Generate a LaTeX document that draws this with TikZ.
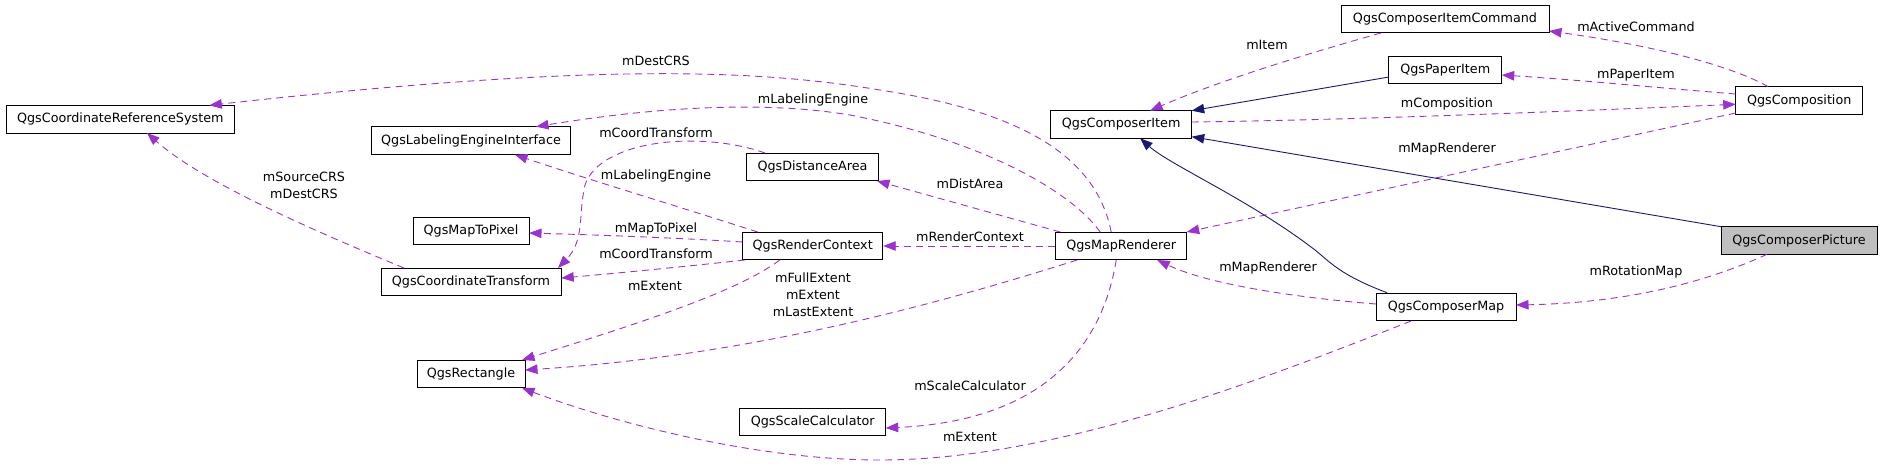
\documentclass[tikz,border=0pt]{standalone}
\usepackage{fontspec}
\setmainfont{DejaVu Sans}
\usetikzlibrary{arrows.meta}
\definecolor{edgepurple}{HTML}{9A32CD}
\definecolor{edgenavy}{HTML}{191970}
\definecolor{boxgray}{HTML}{BFBFBF}
\tikzset{
  cls/.style={draw=black, line width=1pt, fill=white, minimum height=27.6pt, inner sep=0pt, anchor=center},
  member/.style={draw=edgepurple, line width=0.9pt, dash pattern=on 7pt off 5pt, -{Triangle[length=12.5pt,width=9.5pt]}},
  inherit/.style={draw=edgenavy, line width=0.9pt, -{Triangle[length=12.5pt,width=9.5pt]}},
  lbl/.style={inner sep=0pt, text height=9.3pt, text depth=0pt, anchor=center},
  lbltwo/.style={inner sep=0pt, align=center, anchor=center}
}
\begin{document}
\begin{tikzpicture}[x=1pt, y=-1pt, font=\fontsize{12.75}{17}\selectfont]
\useasboundingbox (0,0) rectangle (1883,471);
% classes
\node[cls, minimum width=228pt] (crs) at (120.3,119.2) {QgsCoordinateReferenceSystem};
\node[cls, minimum width=199pt] (lei) at (471,140.7) {QgsLabelingEngineInterface};
\node[cls, minimum width=116pt] (m2p) at (471,231) {QgsMapToPixel};
\node[cls, minimum width=180pt] (ct) at (471,282) {QgsCoordinateTransform};
\node[cls, minimum width=108pt] (rect) at (471,374) {QgsRectangle};
\node[cls, minimum width=141pt] (ci) at (1121.2,124.5) {QgsComposerItem};
\node[cls, minimum width=132pt] (da) at (812.5,167) {QgsDistanceArea};
\node[cls, minimum width=131pt] (mr) at (1121.2,246) {QgsMapRenderer};
\node[cls, minimum width=140pt] (rc) at (812.7,246) {QgsRenderContext};
\node[cls, minimum width=146pt] (sc) at (812.7,422) {QgsScaleCalculator};
\node[cls, minimum width=208pt] (cic) at (1445,19) {QgsComposerItemCommand};
\node[cls, minimum width=113pt] (pi) at (1445.2,70) {QgsPaperItem};
\node[cls, minimum width=127pt] (comp) at (1799.2,100.5) {QgsComposition};
\node[cls, minimum width=156pt, fill=boxgray] (cp) at (1799,240.5) {QgsComposerPicture};
\node[cls, minimum width=140pt] (cm) at (1446,307) {QgsComposerMap};
% member edges
\draw[member] ([shift={(-64,14)}]cic.center) .. controls (1320,50) and (1220,80) .. ([shift={(29,-13.8)}]ci.center);
\draw[member] ([shift={(-10,-14)}]mr.center) .. controls (1095,150) and (1010,110) .. (880,90) .. controls (760,70) and (600,62) .. ([shift={(89,-13.9)}]crs.center);
\draw[member] ([shift={(-21,-14)}]mr.center) .. controls (1070,190) and (980,140) .. (850,115) .. controls (760,100) and (650,108) .. ([shift={(65,-14)}]lei.center);
\draw[member] ([shift={(-47.5,-14)}]da.center) .. controls (700,130) and (600,140) .. (585,185) .. controls (578,215) and (585,240) .. ([shift={(87,-14)}]ct.center);
\draw[member] ([shift={(-55,-14)}]rc.center) .. controls (680,207) and (590,180) .. ([shift={(44,14)}]lei.center);
\draw[member] ([shift={(-70,-4)}]rc.center) .. controls (680,238) and (600,235) .. ([shift={(58,2)}]m2p.center);
\draw[member] ([shift={(-68,14)}]rc.center) .. controls (700,265) and (620,273) .. ([shift={(90.2,-4)}]ct.center);
\draw[member] ([shift={(-33,14)}]rc.center) .. controls (740,290) and (650,320) .. ([shift={(51,-14)}]rect.center);
\draw[member] ([shift={(-44,14)}]mr.center) .. controls (950,300) and (760,355) .. ([shift={(54,-4)}]rect.center);
\draw[member] (mr.west) -- (rc.east);
\draw[member] ([shift={(-61,-14)}]mr.center) -- ([shift={(64.5,14)}]da.center);
\draw[member] ([shift={(-5,14)}]mr.center) .. controls (1105,330) and (1060,420) .. ([shift={(73,6)}]sc.center);
\draw[member] ([shift={(-35,14)}]cm.center) .. controls (1250,385) and (1050,460) .. (880,460) .. controls (760,460) and (620,425) .. ([shift={(51,14)}]rect.center);
\draw[member] ([shift={(-70,-3)}]cm.center) .. controls (1300,298) and (1210,285) .. ([shift={(36,14)}]mr.center);
\draw[member] ([shift={(-63.5,12.5)}]comp.center) -- ([shift={(65.5,-14)}]mr.center);
\draw[member] ([shift={(-31,-13.8)}]comp.center) .. controls (1730,65) and (1650,45) .. ([shift={(104,12)}]cic.center);
\draw[member] ([shift={(-63.5,-6.5)}]comp.center) .. controls (1660,88) and (1580,80) .. ([shift={(56.5,5)}]pi.center);
\draw[member] ([shift={(70.5,-2.5)}]ci.center) .. controls (1350,120) and (1550,112) .. ([shift={(-63.5,3.8)}]comp.center);
\draw[member] ([shift={(-32,13.8)}]cp.center) .. controls (1700,285) and (1620,303) .. ([shift={(70,-2)}]cm.center);
\draw[member] ([shift={(-67,-14)}]ct.center) .. controls (300,225) and (200,180) .. ([shift={(26.7,13.8)}]crs.center);
% inheritance edges
\draw[inherit] ([shift={(-56.2,7)}]pi.center) -- ([shift={(70.5,-13.8)}]ci.center);
\draw[inherit] ([shift={(-78,-13.8)}]cp.center) -- ([shift={(70.5,12.2)}]ci.center);
\draw[inherit] ([shift={(-59,-14.3)}]cm.center) .. controls (1340,275) and (1330,262) .. (1315,250) .. controls (1250,200) and (1170,165) .. ([shift={(19,13.8)}]ci.center);
% labels
\node[lbl] (l0) at (1267,45) {mItem};
\node[lbl] (l1) at (656,61) {mDestCRS};
\node[lbl] (l2) at (813,99) {mLabelingEngine};
\node[lbl] (l3) at (656,133) {mCoordTransform};
\node[lbl] (l4) at (656,175) {mLabelingEngine};
\node[lbl] (l5) at (656,228) {mMapToPixel};
\node[lbl] (l6) at (656,254) {mCoordTransform};
\node[lbl] (l7) at (655,286) {mExtent};
\node[lbltwo] (l8) at (813,295) {mFullExtent\\mExtent\\mLastExtent};
\node[lbl] (l9) at (970,237) {mRenderContext};
\node[lbl] (l10) at (970,184) {mDistArea};
\node[lbl] (l11) at (970,386) {mScaleCalculator};
\node[lbl] (l12) at (970,437) {mExtent};
\node[lbl] (l13) at (1268,267) {mMapRenderer};
\node[lbl] (l14) at (1447,148) {mMapRenderer};
\node[lbl] (l15) at (1636,27) {mActiveCommand};
\node[lbl] (l16) at (1636,74) {mPaperItem};
\node[lbl] (l17) at (1447,103) {mComposition};
\node[lbl] (l18) at (1636,271) {mRotationMap};
\node[lbltwo] (l19) at (304,185.5) {mSourceCRS\\mDestCRS};
\end{tikzpicture}
\end{document}
